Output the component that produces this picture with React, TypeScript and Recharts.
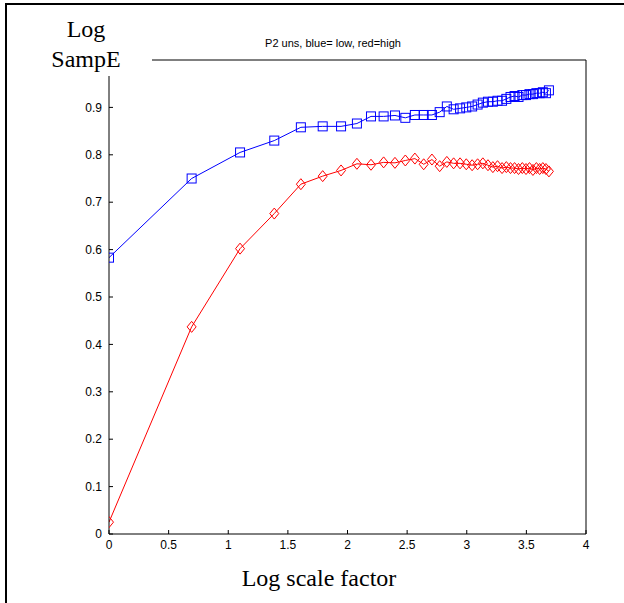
import React from 'react';
import { LineChart, Line, XAxis, YAxis } from 'recharts';

// x = log of scale factor (scales 1..40)
const logScale = [
  0, 0.693, 1.099, 1.386, 1.609, 1.792, 1.946, 2.079, 2.197, 2.303,
  2.398, 2.485, 2.565, 2.639, 2.708, 2.773, 2.833, 2.89, 2.944, 2.996,
  3.045, 3.091, 3.135, 3.178, 3.219, 3.258, 3.296, 3.332, 3.367, 3.401,
  3.434, 3.466, 3.497, 3.526, 3.555, 3.584, 3.611, 3.638, 3.664, 3.689,
];

// blue = low
const blueLow = [
  0.583, 0.75, 0.805, 0.83, 0.858, 0.86, 0.86, 0.866, 0.881, 0.881,
  0.883, 0.878, 0.884, 0.884, 0.884, 0.89, 0.902, 0.896, 0.898, 0.9,
  0.902, 0.906, 0.91, 0.912, 0.912, 0.914, 0.914, 0.918, 0.922, 0.924,
  0.922, 0.926, 0.926, 0.928, 0.928, 0.93, 0.93, 0.932, 0.93, 0.936,
];

// red = high
const redHigh = [
  0.025, 0.437, 0.602, 0.676, 0.738, 0.755, 0.767, 0.781, 0.779, 0.784,
  0.783, 0.788, 0.792, 0.78, 0.79, 0.776, 0.785, 0.782, 0.782, 0.78,
  0.778, 0.78, 0.782, 0.778, 0.774, 0.776, 0.772, 0.774, 0.772, 0.772,
  0.77, 0.772, 0.77, 0.772, 0.768, 0.772, 0.77, 0.772, 0.77, 0.765,
];

const xTicks = [0, 0.5, 1, 1.5, 2, 2.5, 3, 3.5, 4];
const yTicks = [0, 0.1, 0.2, 0.3, 0.4, 0.5, 0.6, 0.7, 0.8, 0.9];

const data = logScale.map((x, i) => ({ x, low: blueLow[i], high: redHigh[i] }));

const sans = '"Liberation Sans Narrow", "Liberation Sans", Arial, sans-serif';
const serif = '"Liberation Serif", "DejaVu Serif", serif';
const tickFont = { fill: '#000', fontSize: 12, fontFamily: sans };

const Square = (props: any) => {
  const { cx, cy, index } = props;
  if (cx == null || cy == null) return null;
  return (
    <rect key={`sq-${index}`} x={cx - 4.5} y={cy - 4.5} width={9} height={9}
      fill="none" stroke="#0000ff" strokeWidth={1} />
  );
};

const Diamond = (props: any) => {
  const { cx, cy, index } = props;
  if (cx == null || cy == null) return null;
  return (
    <path key={`dm-${index}`}
      d={`M${cx},${cy - 5.5} L${cx + 4.5},${cy} L${cx},${cy + 5.5} L${cx - 4.5},${cy} Z`}
      fill="none" stroke="#ff0000" strokeWidth={1} />
  );
};

const fmt = (v: number) => String(v);

export default function App() {
  return (
    <div style={{ position: 'absolute', left: 0, top: 0, width: 624, height: 603, background: '#fff', overflow: 'hidden' }}>
      {/* figure frame */}
      <div style={{ position: 'absolute', left: 5, top: 3, right: -10, bottom: -10, borderTop: '2px solid #000', borderLeft: '2px solid #000' }} />

      <LineChart width={624} height={603} data={data}
        margin={{ top: 59, right: 37, bottom: 39, left: 69 }}>
        <XAxis xAxisId="b" dataKey="x" type="number" domain={[0, 4]} ticks={xTicks}
          allowDataOverflow tickSize={-4} tickMargin={10} height={30}
          stroke="#000" tick={tickFont} tickFormatter={fmt} />
        <XAxis xAxisId="t" orientation="top" dataKey="x" type="number" domain={[0, 4]} ticks={xTicks}
          allowDataOverflow tickSize={-4} height={1} stroke="#000" tick={false} />
        <YAxis yAxisId="l" type="number" domain={[0, 1]} ticks={yTicks}
          allowDataOverflow tickSize={-4} tickMargin={11} width={40}
          stroke="#000" tick={tickFont} tickFormatter={fmt} />
        <YAxis yAxisId="r" orientation="right" type="number" domain={[0, 1]} ticks={yTicks}
          allowDataOverflow tickSize={-4} width={1} stroke="#000" tick={false} />
        <Line xAxisId="b" yAxisId="l" dataKey="low" stroke="#0000ff" strokeWidth={1}
          dot={Square} activeDot={false} isAnimationActive={false} />
        <Line xAxisId="b" yAxisId="l" dataKey="high" stroke="#ff0000" strokeWidth={1}
          dot={Diamond} activeDot={false} isAnimationActive={false} />
      </LineChart>

      {/* title */}
      <div style={{ position: 'absolute', left: 213, width: 240, top: 37, textAlign: 'center',
        fontFamily: sans, fontSize: 11, color: '#000' }}>
        P2 uns, blue= low, red=high
      </div>

      {/* y label box, covers the top-left corner of the axes */}
      <div style={{ position: 'absolute', left: 20, top: 14, width: 132, height: 62, background: '#fff',
        textAlign: 'center', fontFamily: serif, fontSize: 24, lineHeight: '30px', color: '#000' }}>
        Log<br />SampE
      </div>

      {/* x label */}
      <div style={{ position: 'absolute', left: 199, width: 240, top: 565, textAlign: 'center',
        fontFamily: serif, fontSize: 24, color: '#000' }}>
        Log scale factor
      </div>
    </div>
  );
}
